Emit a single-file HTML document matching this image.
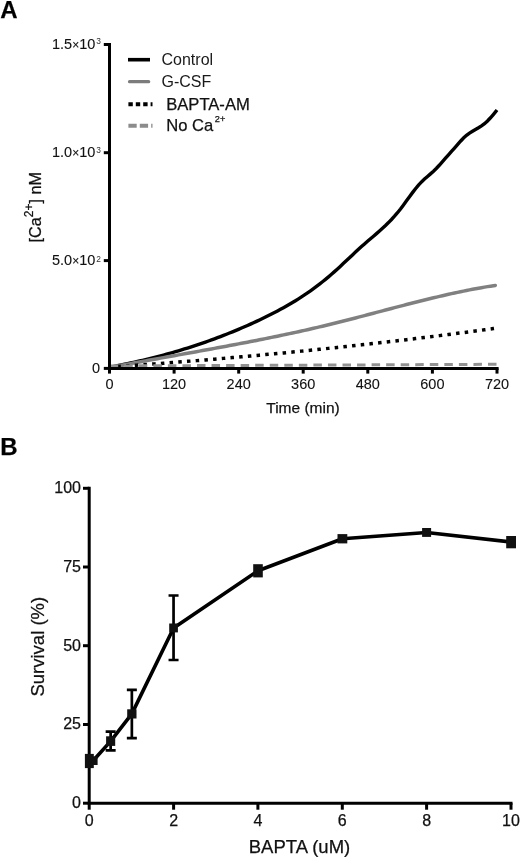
<!DOCTYPE html>
<html><head><meta charset="utf-8"><style>
html,body{margin:0;padding:0;background:#fff;width:520px;height:857px;overflow:hidden}
svg{display:block;will-change:transform}
text{font-family:"Liberation Sans",sans-serif;fill:#111;stroke:#111;stroke-width:0.25px}
.pl{font-weight:bold;font-size:24px;fill:#000}
.ax{stroke:#000;stroke-width:3;fill:none}
.tl{font-size:14.5px;stroke-width:0.1px}
.tlb{font-size:16px}
.sup{font-size:8.4px;stroke-width:0;fill:#333}
.tx{font-size:12px}
.sup2{font-size:12px}
.al2{font-size:16.2px}
.sup3{font-size:9.2px}
.al{font-size:15.5px}
.alb{font-size:18.5px}
.lg{font-size:16px;stroke-width:0;fill:#1a1a1a}
.lg2{font-size:16.6px}
</style></head><body>
<svg width="520" height="857" viewBox="0 0 520 857">
<text x="0.2" y="17.9" class="pl">A</text>
<path d="M109.50,367.22 L112.50,366.66 L115.50,366.09 L118.50,365.50 L121.50,364.90 L124.50,364.29 L127.50,363.66 L130.50,363.03 L133.50,362.37 L136.50,361.70 L139.50,361.02 L142.50,360.33 L145.50,359.62 L148.50,358.89 L151.50,358.15 L154.50,357.40 L157.50,356.63 L160.50,355.84 L163.50,355.04 L166.50,354.22 L169.50,353.39 L172.50,352.54 L175.50,351.67 L178.50,350.79 L181.50,349.89 L184.50,348.97 L187.50,348.04 L190.50,347.08 L193.50,346.11 L196.50,345.13 L199.50,344.12 L202.50,343.10 L205.50,342.06 L208.50,341.00 L211.50,339.92 L214.50,338.82 L217.50,337.70 L220.50,336.57 L223.50,335.41 L226.50,334.23 L229.50,333.04 L232.50,331.82 L235.50,330.59 L238.50,329.33 L241.50,328.05 L244.50,326.76 L247.50,325.44 L250.50,324.10 L253.50,322.73 L256.50,321.35 L259.50,319.95 L262.50,318.52 L265.50,317.07 L268.50,315.59 L271.50,314.08 L274.50,312.55 L277.50,310.98 L280.50,309.37 L283.50,307.72 L286.50,306.04 L289.50,304.31 L292.50,302.54 L295.50,300.71 L298.50,298.84 L301.50,296.92 L304.50,294.94 L307.50,292.90 L310.50,290.81 L313.50,288.65 L316.50,286.42 L319.50,284.13 L322.50,281.78 L325.50,279.35 L328.50,276.84 L331.50,274.26 L334.50,271.61 L337.50,268.90 L340.50,266.14 L343.50,263.35 L346.50,260.54 L349.50,257.72 L352.50,254.90 L355.50,252.10 L358.50,249.33 L361.50,246.60 L364.50,243.92 L367.50,241.30 L370.50,238.73 L373.50,236.17 L376.50,233.60 L379.50,230.98 L382.50,228.29 L385.50,225.50 L388.50,222.58 L391.50,219.49 L394.50,216.22 L397.50,212.72 L400.50,208.98 L403.50,205.00 L406.50,200.87 L409.50,196.70 L412.50,192.62 L415.50,188.72 L418.50,185.12 L421.50,181.92 L424.50,179.09 L427.50,176.48 L430.50,173.91 L433.50,171.23 L436.50,168.27 L439.50,165.02 L442.50,161.61 L445.50,158.18 L448.50,154.81 L451.50,151.47 L454.50,148.09 L457.50,144.64 L460.50,141.24 L463.50,138.06 L466.50,135.31 L469.50,133.07 L472.50,131.19 L475.50,129.49 L478.50,127.80 L481.50,125.92 L484.50,123.69 L487.50,120.94 L490.50,117.75 L493.50,114.27 L496.50,110.65 L497.00,110.04" fill="none" stroke="#000" stroke-width="3.4"/>
<path d="M109.50,367.59 L112.50,367.01 L115.50,366.44 L118.50,365.87 L121.50,365.31 L124.50,364.74 L127.50,364.18 L130.50,363.62 L133.50,363.07 L136.50,362.51 L139.50,361.96 L142.50,361.41 L145.50,360.86 L148.50,360.32 L151.50,359.77 L154.50,359.23 L157.50,358.68 L160.50,358.14 L163.50,357.60 L166.50,357.06 L169.50,356.52 L172.50,355.98 L175.50,355.44 L178.50,354.90 L181.50,354.36 L184.50,353.82 L187.50,353.28 L190.50,352.74 L193.50,352.20 L196.50,351.66 L199.50,351.11 L202.50,350.57 L205.50,350.02 L208.50,349.48 L211.50,348.93 L214.50,348.38 L217.50,347.82 L220.50,347.27 L223.50,346.71 L226.50,346.16 L229.50,345.59 L232.50,345.03 L235.50,344.46 L238.50,343.90 L241.50,343.32 L244.50,342.75 L247.50,342.17 L250.50,341.59 L253.50,341.00 L256.50,340.41 L259.50,339.82 L262.50,339.22 L265.50,338.62 L268.50,338.01 L271.50,337.40 L274.50,336.79 L277.50,336.17 L280.50,335.54 L283.50,334.91 L286.50,334.28 L289.50,333.64 L292.50,332.99 L295.50,332.34 L298.50,331.68 L301.50,331.02 L304.50,330.35 L307.50,329.67 L310.50,328.99 L313.50,328.30 L316.50,327.60 L319.50,326.90 L322.50,326.19 L325.50,325.48 L328.50,324.75 L331.50,324.02 L334.50,323.28 L337.50,322.54 L340.50,321.78 L343.50,321.03 L346.50,320.26 L349.50,319.50 L352.50,318.72 L355.50,317.95 L358.50,317.17 L361.50,316.38 L364.50,315.60 L367.50,314.81 L370.50,314.02 L373.50,313.22 L376.50,312.43 L379.50,311.64 L382.50,310.85 L385.50,310.05 L388.50,309.26 L391.50,308.47 L394.50,307.68 L397.50,306.90 L400.50,306.11 L403.50,305.33 L406.50,304.56 L409.50,303.78 L412.50,303.02 L415.50,302.25 L418.50,301.50 L421.50,300.74 L424.50,300.00 L427.50,299.26 L430.50,298.53 L433.50,297.81 L436.50,297.09 L439.50,296.39 L442.50,295.69 L445.50,295.00 L448.50,294.32 L451.50,293.66 L454.50,293.00 L457.50,292.36 L460.50,291.72 L463.50,291.10 L466.50,290.50 L469.50,289.90 L472.50,289.32 L475.50,288.76 L478.50,288.20 L481.50,287.67 L484.50,287.15 L487.50,286.64 L490.50,286.15 L493.50,285.68 L495.30,285.40" fill="none" stroke="#808080" stroke-width="3.5" stroke-linecap="round"/>
<path d="M109.50,367.12 L112.50,366.91 L115.50,366.71 L118.50,366.50 L121.50,366.29 L124.50,366.09 L127.50,365.87 L130.50,365.66 L133.50,365.45 L136.50,365.23 L139.50,365.02 L142.50,364.80 L145.50,364.58 L148.50,364.36 L151.50,364.14 L154.50,363.92 L157.50,363.69 L160.50,363.46 L163.50,363.24 L166.50,363.01 L169.50,362.78 L172.50,362.54 L175.50,362.31 L178.50,362.08 L181.50,361.84 L184.50,361.60 L187.50,361.36 L190.50,361.12 L193.50,360.88 L196.50,360.63 L199.50,360.39 L202.50,360.14 L205.50,359.89 L208.50,359.64 L211.50,359.39 L214.50,359.14 L217.50,358.88 L220.50,358.63 L223.50,358.37 L226.50,358.11 L229.50,357.85 L232.50,357.59 L235.50,357.32 L238.50,357.06 L241.50,356.79 L244.50,356.52 L247.50,356.25 L250.50,355.98 L253.50,355.71 L256.50,355.43 L259.50,355.16 L262.50,354.88 L265.50,354.60 L268.50,354.32 L271.50,354.04 L274.50,353.75 L277.50,353.47 L280.50,353.18 L283.50,352.89 L286.50,352.60 L289.50,352.31 L292.50,352.02 L295.50,351.72 L298.50,351.42 L301.50,351.13 L304.50,350.83 L307.50,350.52 L310.50,350.22 L313.50,349.92 L316.50,349.61 L319.50,349.30 L322.50,348.99 L325.50,348.68 L328.50,348.37 L331.50,348.05 L334.50,347.74 L337.50,347.42 L340.50,347.10 L343.50,346.78 L346.50,346.46 L349.50,346.13 L352.50,345.81 L355.50,345.48 L358.50,345.15 L361.50,344.82 L364.50,344.49 L367.50,344.15 L370.50,343.82 L373.50,343.48 L376.50,343.14 L379.50,342.80 L382.50,342.46 L385.50,342.11 L388.50,341.77 L391.50,341.42 L394.50,341.07 L397.50,340.72 L400.50,340.37 L403.50,340.01 L406.50,339.66 L409.50,339.30 L412.50,338.94 L415.50,338.58 L418.50,338.21 L421.50,337.85 L424.50,337.48 L427.50,337.12 L430.50,336.75 L433.50,336.37 L436.50,336.00 L439.50,335.63 L442.50,335.25 L445.50,334.87 L448.50,334.49 L451.50,334.11 L454.50,333.72 L457.50,333.34 L460.50,332.95 L463.50,332.56 L466.50,332.17 L469.50,331.78 L472.50,331.39 L475.50,330.99 L478.50,330.59 L481.50,330.19 L484.50,329.79 L487.50,329.39 L490.50,328.98 L493.50,328.58 L494.00,328.51" fill="none" stroke="#000" stroke-width="3.5" stroke-dasharray="3.5 5.227" stroke-dashoffset="0.85"/>
<path d="M109.7,366 L497,364.3" fill="none" stroke="#929292" stroke-width="3" stroke-dasharray="8.5 6.05"/>
<path d="M109.5,43 V369.9 M108,368.4 H498.6" class="ax"/>
<path d="M103.8,44.5 H109.5" class="ax"/>
<path d="M103.8,152.7 H109.5" class="ax"/>
<path d="M103.8,260.6 H109.5" class="ax"/>
<path d="M103.8,368.4 H109.5" class="ax"/>
<path d="M109.5,368.4 V373.6" class="ax"/>
<path d="M174.1,368.4 V373.6" class="ax"/>
<path d="M238.7,368.4 V373.6" class="ax"/>
<path d="M303.2,368.4 V373.6" class="ax"/>
<path d="M367.8,368.4 V373.6" class="ax"/>
<path d="M432.4,368.4 V373.6" class="ax"/>
<path d="M497.0,368.4 V373.6" class="ax"/>
<text x="95.3" y="49.2" class="tl" text-anchor="end">1.5<tspan class="tx">×</tspan>10</text><text x="96.3" y="44.4" class="sup">3</text>
<text x="95.3" y="157.3" class="tl" text-anchor="end">1.0<tspan class="tx">×</tspan>10</text><text x="96.3" y="152.5" class="sup">3</text>
<text x="95.3" y="264.9" class="tl" text-anchor="end">5.0<tspan class="tx">×</tspan>10</text><text x="96.3" y="261.6" class="sup">2</text>
<text x="100" y="373.4" class="tl" text-anchor="end">0</text>
<text x="109.5" y="388.5" class="tl" text-anchor="middle">0</text>
<text x="174.1" y="388.5" class="tl" text-anchor="middle">120</text>
<text x="238.7" y="388.5" class="tl" text-anchor="middle">240</text>
<text x="303.2" y="388.5" class="tl" text-anchor="middle">360</text>
<text x="367.8" y="388.5" class="tl" text-anchor="middle">480</text>
<text x="432.4" y="388.5" class="tl" text-anchor="middle">600</text>
<text x="497.0" y="388.5" class="tl" text-anchor="middle">720</text>
<text x="303" y="412.7" class="al" text-anchor="middle">Time (min)</text>
<text transform="translate(40.6,207.3) rotate(-90)" class="al2" text-anchor="middle">[Ca<tspan class="sup2" dy="-7.5">2+</tspan><tspan dy="7.5">] nM</tspan></text>
<path d="M128,59.7 H150" stroke="#000" stroke-width="3.6"/>
<path d="M129.5,81.7 H148.7" stroke="#7c7c7c" stroke-width="3.2" stroke-linecap="round"/>
<path d="M128.4,104.3 H152.5" stroke="#000" stroke-width="4" stroke-dasharray="4.4 3"/>
<path d="M128.4,125.8 H152.5" stroke="#8c8c8c" stroke-width="4" stroke-dasharray="8.3 3.1"/>
<text x="161.5" y="65" class="lg">Control</text>
<text x="161.5" y="87" class="lg">G-CSF</text>
<text x="166.2" y="109.8" class="lg2">BAPTA-AM</text>
<text x="166.2" y="131.3" class="lg2">No Ca<tspan class="sup3" dx="1.6" dy="-9.2">2+</tspan></text>
<text x="0.2" y="455.2" class="pl">B</text>
<path d="M89.2,486.7 V804.8 M87.7,803.2 H512.5" class="ax"/>
<path d="M83,488.3 H89.2" class="ax"/>
<path d="M83,567.0 H89.2" class="ax"/>
<path d="M83,645.7 H89.2" class="ax"/>
<path d="M83,724.5 H89.2" class="ax"/>
<path d="M83,803.2 H89.2" class="ax"/>
<path d="M89.2,803.2 V809.7" class="ax"/>
<path d="M173.6,803.2 V809.7" class="ax"/>
<path d="M257.9,803.2 V809.7" class="ax"/>
<path d="M342.3,803.2 V809.7" class="ax"/>
<path d="M426.6,803.2 V809.7" class="ax"/>
<path d="M511.0,803.2 V809.7" class="ax"/>
<text x="81" y="493.1" class="tlb" text-anchor="end">100</text>
<text x="81" y="571.8" class="tlb" text-anchor="end">75</text>
<text x="81" y="650.5" class="tlb" text-anchor="end">50</text>
<text x="81" y="729.3" class="tlb" text-anchor="end">25</text>
<text x="81" y="808.0" class="tlb" text-anchor="end">0</text>
<text x="89.2" y="826.3" class="tlb" text-anchor="middle">0</text>
<text x="173.6" y="826.3" class="tlb" text-anchor="middle">2</text>
<text x="257.9" y="826.3" class="tlb" text-anchor="middle">4</text>
<text x="342.3" y="826.3" class="tlb" text-anchor="middle">6</text>
<text x="426.6" y="826.3" class="tlb" text-anchor="middle">8</text>
<text x="511.0" y="826.3" class="tlb" text-anchor="middle">10</text>
<text x="299.5" y="852.7" class="alb" text-anchor="middle">BAPTA (uM)</text>
<text transform="translate(43.7,646.7) rotate(-90)" class="alb" text-anchor="middle">Survival (%)</text>
<polyline points="89.3,761.0 93.1,760.7 110.7,741.1 131.8,713.9 173.6,628.0 258.0,570.8 342.4,538.8 426.6,532.5 511.1,542.0" fill="none" stroke="#000" stroke-width="3.6" stroke-linejoin="round"/>
<path d="M110.65,731.7 V750.4 M105.65,731.7 H115.65 M105.65,750.4 H115.65" stroke="#000" stroke-width="2.7" fill="none"/>
<path d="M131.85,689.8 V738.2 M126.85,689.8 H136.85 M126.85,738.2 H136.85" stroke="#000" stroke-width="2.7" fill="none"/>
<path d="M173.55,595.5 V660 M168.55,595.5 H178.55 M168.55,660 H178.55" stroke="#000" stroke-width="2.7" fill="none"/>
<rect x="84.9" y="753.9" width="8.90" height="14.20" fill="#111"/>
<rect x="88.6" y="756.4" width="9.00" height="8.60" fill="#111"/>
<rect x="106.1" y="736.3" width="9.10" height="9.60" fill="#111"/>
<rect x="127.2" y="709.3" width="9.30" height="9.20" fill="#111"/>
<rect x="169.2" y="623.5" width="8.70" height="8.90" fill="#111"/>
<rect x="253.2" y="564.2" width="9.60" height="13.20" fill="#111"/>
<rect x="337.5" y="534.1" width="9.80" height="9.30" fill="#111"/>
<rect x="422.1" y="528" width="9.00" height="8.90" fill="#111"/>
<rect x="506.2" y="536" width="9.80" height="12.30" fill="#111"/>
</svg>
</body></html>
